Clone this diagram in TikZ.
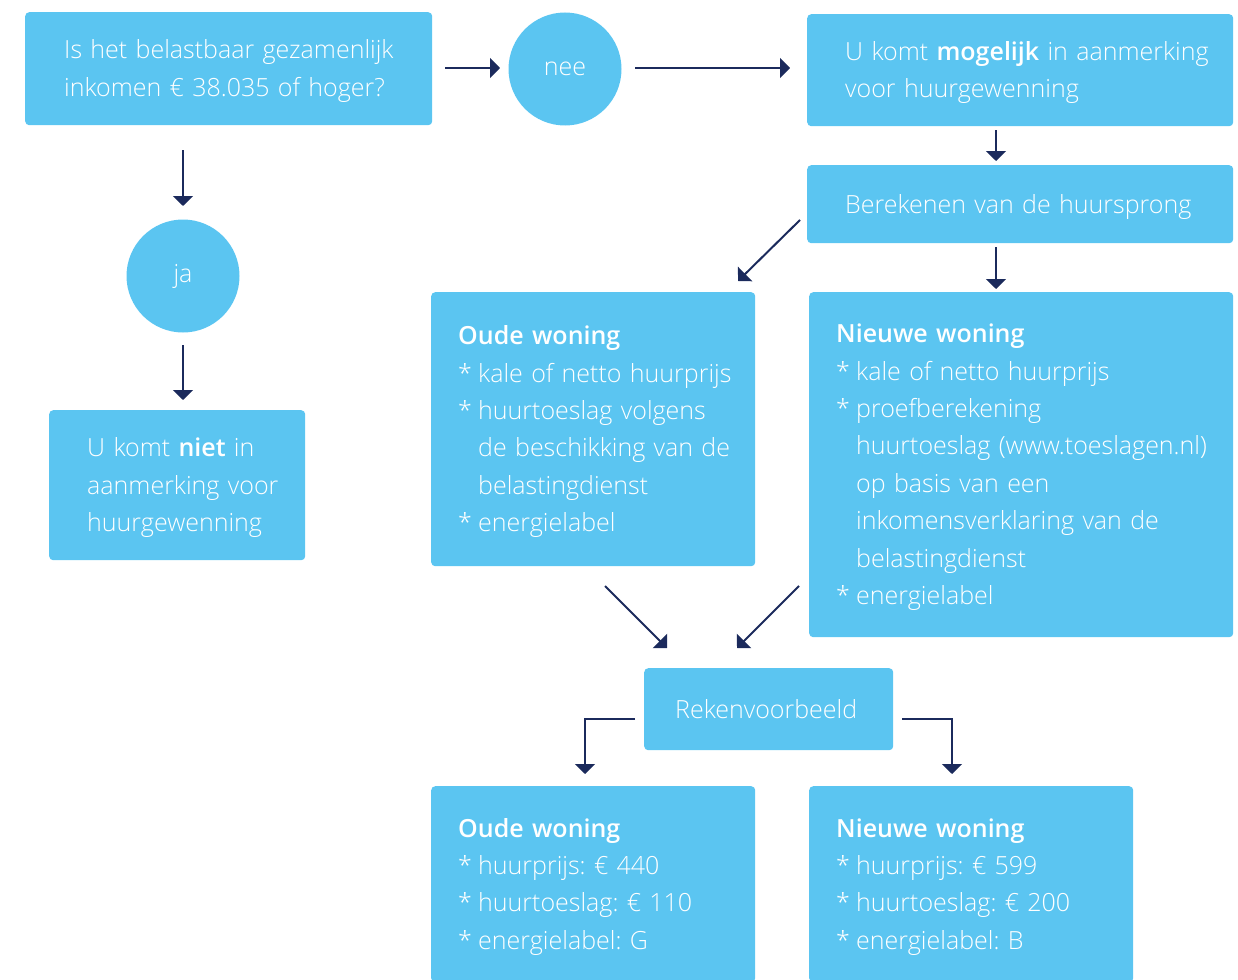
\documentclass[tikz,border=0pt]{standalone}
\usepackage{fontspec}
\IfFontExistsTF{Open Sans Light}{%
  \IfFontExistsTF{Open Sans SemiBold}{\setmainfont{Open Sans Light}[BoldFont={Open Sans SemiBold}]}{%
    \IfFontExistsTF{Open Sans Semibold}{\setmainfont{Open Sans Light}[BoldFont={Open Sans Semibold}]}{%
      \setmainfont{Open Sans Light}[BoldFont={Open Sans Bold}]}}}{\setmainfont{Open Sans}}
\frenchspacing
\usetikzlibrary{arrows.meta}
\definecolor{boxblue}{HTML}{5BC5F1}
\definecolor{navy}{HTML}{1B2A5C}
\newcommand\fs{\fontsize{25}{37.45}\selectfont}
\newcommand\lyn[1]{\mbox{#1}}
\newcommand\up{\rule{0pt}{24pt}}
\newcommand\bul{\makebox[20pt][l]{*}}
\newcommand\ind{\hspace*{20pt}}
\tikzset{
  box/.style={fill=boxblue, rounded corners=4pt, text=white, inner sep=0pt, font=\fs, anchor=north west, align=left},
  circ/.style={circle, fill=boxblue, minimum size=113pt, inner sep=0pt, text=white, font=\fs},
  arr/.style={draw=navy, line width=2pt, -{Triangle[length=10pt,width=20pt]}}
}
\begin{document}
\begin{tikzpicture}[x=1pt,y=-1pt]
\useasboundingbox (0,0) rectangle (1238,979);
\clip (0,0) rectangle (1238,979);
% boxes
\node[box, minimum width=407pt, minimum height=113pt, text width=329pt] (q) at (25,12)
  {\lyn{\up Is het belastbaar gezamenlijk}\\\lyn{inkomen € 38.035 of hoger?}};
\node[circ] (nee) at (565,69) {nee};
\node[box, minimum width=426pt, minimum height=112pt, text width=350pt] (m) at (807,14)
  {\lyn{\up U komt \textbf{mogelijk} in aanmerking}\\\lyn{voor huurgewenning}};
\node[box, minimum width=426pt, minimum height=78pt, text width=350pt] (b) at (807,165)
  {\lyn{\up Berekenen van de huursprong}};
\node[circ] (ja) at (183,276) {ja};
\node[box, minimum width=256pt, minimum height=150pt, text width=180pt] (niet) at (49,410)
  {\lyn{\up U komt \textbf{niet} in}\\\lyn{aanmerking voor}\\\lyn{huurgewenning}};
\node[box, minimum width=324pt, minimum height=274pt, text width=270pt] (oud) at (431,292)
  {\lyn{\up\textbf{Oude woning}}\\
   \lyn{\bul kale of netto huurprijs}\\
   \lyn{\bul huurtoeslag volgens}\\
   \lyn{\ind de beschikking van de}\\
   \lyn{\ind belastingdienst}\\
   \lyn{\bul energielabel}};
\node[box, minimum width=424pt, minimum height=345pt, text width=370pt] (nieuw) at (809,292)
  {\lyn{\up\textbf{Nieuwe woning}}\\
   \lyn{\bul kale of netto huurprijs}\\
   \lyn{\bul proefberekening}\\
   \lyn{\ind huurtoeslag (www.toeslagen.nl)}\\
   \lyn{\ind op basis van een}\\
   \lyn{\ind inkomensverklaring van de}\\
   \lyn{\ind belastingdienst}\\
   \lyn{\bul energielabel}};
\node[box, minimum width=249pt, minimum height=82pt, align=center] (rek) at (644,668)
  {Rekenvoorbeeld\hspace*{5pt}};
\node[box, minimum width=324pt, minimum height=196pt, text width=270pt] (oud2) at (431,786)
  {\lyn{\up\textbf{Oude woning}}\\
   \lyn{\bul huurprijs: € 440}\\
   \lyn{\bul huurtoeslag: € 110}\\
   \lyn{\bul energielabel: G}};
\node[box, minimum width=324pt, minimum height=196pt, text width=270pt] (nieuw2) at (809,786)
  {\lyn{\up\textbf{Nieuwe woning}}\\
   \lyn{\bul huurprijs: € 599}\\
   \lyn{\bul huurtoeslag: € 200}\\
   \lyn{\bul energielabel: B}};
% connector ends
\coordinate (a1s) at (445,68);  \coordinate (a1e) at (500,68);
\coordinate (a2s) at (635,68);  \coordinate (a2e) at (790,68);
\coordinate (a3s) at (996,130); \coordinate (a3e) at (996,161);
\coordinate (a4s) at (800,220); \coordinate (a4e) at (738,281);
\coordinate (a5s) at (996,247); \coordinate (a5e) at (996,289);
\coordinate (a6s) at (183,150); \coordinate (a6e) at (183,206);
\coordinate (a7s) at (183,345); \coordinate (a7e) at (183,400);
\coordinate (a8s) at (605,586); \coordinate (a8e) at (667,648);
\coordinate (a9s) at (799,586); \coordinate (a9e) at (737,648);
\coordinate (a10s) at (635,719); \coordinate (a10e) at (585,774);
\coordinate (a11s) at (902,719); \coordinate (a11e) at (952,774);
% connectors
\draw[arr] (a1s) -- (a1e);
\draw[arr] (a2s) -- (a2e);
\draw[arr] (a3s) -- (a3e);
\draw[arr] (a4s) -- (a4e);
\draw[arr] (a5s) -- (a5e);
\draw[arr] (a6s) -- (a6e);
\draw[arr] (a7s) -- (a7e);
\draw[arr] (a8s) -- (a8e);
\draw[arr] (a9s) -- (a9e);
\draw[arr] (a10s) -| (a10e);
\draw[arr] (a11s) -| (a11e);
\end{tikzpicture}
\end{document}
